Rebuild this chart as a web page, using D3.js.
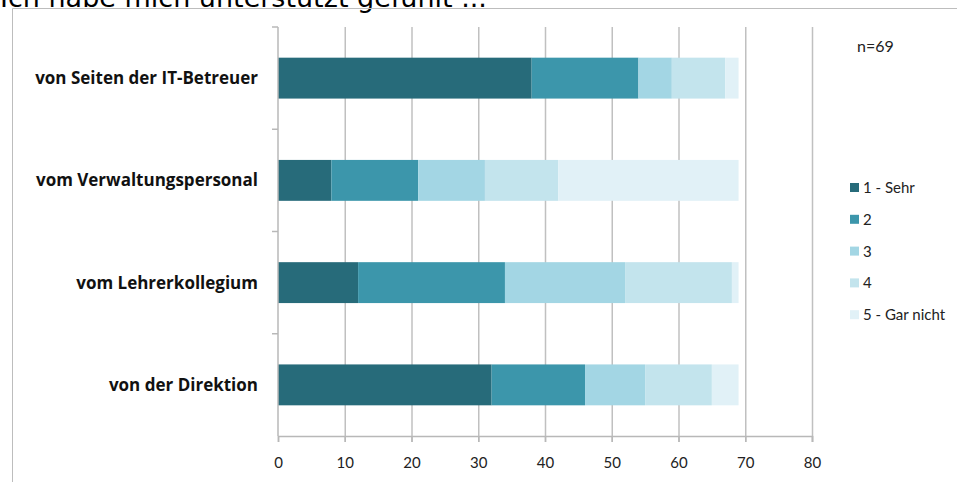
<!DOCTYPE html>
<html>
  <head>
    <meta charset="utf-8" />
    <script src="https://d3js.org/d3.v7.min.js"></script>
    <style>
      body { margin: 0; background: #fff; }
    </style>
  </head>
  <body>
    <svg id="chart"></svg>
    <script>
      // data
      const categories = [
        "von Seiten der IT-Betreuer",
        "vom Verwaltungspersonal",
        "vom Lehrerkollegium",
        "von der Direktion"
      ];
      const levels = ["1 - Sehr", "2", "3", "4", "5 - Gar nicht"];
      const sehr = [38, 8, 12, 32];
      const zwei = [16, 13, 22, 14];
      const drei = [5, 10, 18, 9];
      const vier = [8, 11, 16, 10];
      const garNicht = [2, 27, 1, 4];
      const xTicks = [0, 10, 20, 30, 40, 50, 60, 70, 80];
      const colors = ["#276b7a", "#3c96ab", "#a3d6e4", "#c3e4ed", "#e1f1f7"];

      const width = 957, height = 482;
      const svg = d3.select("#chart").attr("width", width).attr("height", height);

      // title, cut off at the top edge
      svg.append("text")
        .attr("x", 0)
        .attr("y", 7)
        .attr("font-family", "DejaVu Sans, Verdana, sans-serif")
        .attr("font-size", 27)
        .attr("fill", "#000")
        .text("Ich habe mich unterstützt gefühlt ...");

      // frame
      svg.append("path")
        .attr("d", "M12.5," + height + "V8.5H" + width)
        .attr("fill", "none")
        .attr("stroke", "#bdbdbd")
        .attr("stroke-width", 1);

      const rows = categories.map((c, i) => ({
        cat: c,
        vals: [sehr[i], zwei[i], drei[i], vier[i], garNicht[i]]
      }));

      const x = d3.scaleLinear().domain([0, 80]).range([278, 812]);
      const y = d3.scaleBand().domain(categories).range([27, 436])
        .paddingInner(0.6).paddingOuter(0.3);

      // grid
      svg.append("g")
        .selectAll("line")
        .data(xTicks.slice(1))
        .join("line")
        .attr("x1", d => x(d) + 0.5)
        .attr("x2", d => x(d) + 0.5)
        .attr("y1", 27)
        .attr("y2", 442)
        .attr("stroke", "#c0c0c0")
        .attr("stroke-width", 1.5);

      // bars
      const stack = rows.flatMap(r => {
        let acc = 0;
        return r.vals.map((v, k) => {
          const s = { cat: r.cat, k: k, x0: acc, x1: acc + v };
          acc += v;
          return s;
        });
      });
      svg.append("g")
        .selectAll("rect")
        .data(stack)
        .join("rect")
        .attr("x", d => x(d.x0))
        .attr("y", d => y(d.cat))
        .attr("width", d => x(d.x1) - x(d.x0))
        .attr("height", y.bandwidth())
        .attr("fill", d => colors[d.k]);

      // y axis with ticks at band boundaries
      const yAx = svg.append("g").attr("stroke", "#b8b8b8").attr("stroke-width", 1.5);
      yAx.append("line").attr("x1", 278).attr("x2", 278).attr("y1", 27).attr("y2", 436);
      yAx.selectAll(".yt")
        .data(d3.range(categories.length))
        .join("line")
        .attr("class", "yt")
        .attr("x1", 272).attr("x2", 278)
        .attr("y1", i => 27 + i * (409 / 4))
        .attr("y2", i => 27 + i * (409 / 4));

      svg.append("g")
        .selectAll("text")
        .data(categories)
        .join("text")
        .attr("x", 258)
        .attr("y", d => y(d) + y.bandwidth() / 2 + 6)
        .attr("text-anchor", "end")
        .attr("font-family", "Open Sans, sans-serif")
        .attr("font-weight", "bold")
        .attr("font-size", 17)
        .attr("fill", "#111")
        .text(d => d);

      // x axis
      const xAx = svg.append("g").attr("transform", "translate(0,436)")
        .call(d3.axisBottom(x).tickValues(xTicks).tickSize(6).tickPadding(15).tickFormat(d3.format("d")));
      xAx.select(".domain").attr("stroke", "#b8b8b8").attr("stroke-width", 1.5);
      xAx.selectAll(".tick line").attr("stroke", "#b8b8b8").attr("stroke-width", 1.5);
      xAx.selectAll(".tick text")
        .attr("font-family", "Lato, sans-serif")
        .attr("font-size", 15)
        .attr("fill", "#222");

      // n label
      svg.append("text")
        .attr("x", 857)
        .attr("y", 52)
        .attr("font-family", "Lato, sans-serif")
        .attr("font-size", 16)
        .attr("fill", "#222")
        .text("n=69");

      // legend
      const legend = svg.append("g")
        .selectAll("g")
        .data(levels)
        .join("g")
        .attr("transform", (d, i) => "translate(850," + (183 + i * 31.8) + ")");
      legend.append("rect")
        .attr("width", 9).attr("height", 9)
        .attr("fill", (d, i) => colors[i]);
      legend.append("text")
        .attr("x", 13)
        .attr("y", 10)
        .attr("font-family", "Lato, sans-serif")
        .attr("font-size", 15)
        .attr("fill", "#222")
        .text(d => d);
    </script>
  </body>
</html>
